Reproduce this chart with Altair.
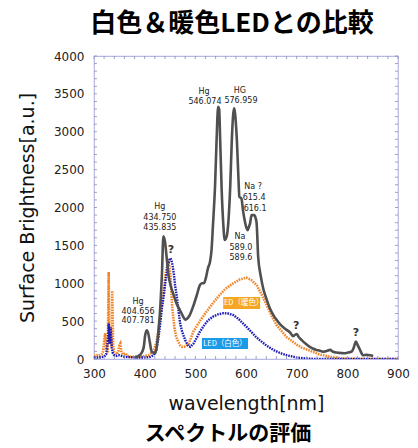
import altair as alt
import pandas as pd

# ---- data ----
gray_nm = [380, 384, 392, 398, 401, 404, 407, 410, 414, 421, 427, 431, 434, 437, 440, 444, 447, 452, 457,
           463, 470, 476, 480, 485, 489, 496, 503, 509, 513, 517, 520, 525, 529, 532, 535, 539, 542, 545,
           547, 549, 552, 555, 558, 562, 565, 569, 572, 575, 577, 579, 582, 585, 587, 591, 594, 598, 603,
           606, 608, 611, 616, 619, 621, 624, 629, 634, 641, 647, 654, 660, 667, 677, 687, 693, 697, 700,
           704, 710, 718, 726, 733, 739, 746, 752, 759, 766, 772, 779, 787, 795, 801, 808, 812, 815, 817,
           820, 825, 831, 838, 845, 851]
gray_val = [20, 30, 60, 150, 315, 380, 340, 230, 95, 80, 360, 700, 1100, 1620, 1550, 1300, 1110, 950, 850,
            730, 640, 560, 520, 540, 580, 700, 845, 975, 1000, 1000, 1050, 1200, 1285, 1440, 1790, 2300, 2900, 3330,
            3300, 2900, 2230, 1800, 1570, 1620, 1790, 2300, 2890, 3250, 3310, 3200, 2890, 2400, 2140, 2120, 1965, 1810, 1700,
            1750, 1790, 1900, 1900, 1860, 1790, 1350, 1100, 930, 780, 670, 580, 520, 460, 400, 350, 300, 320, 330,
            290, 250, 200, 160, 135, 120, 110, 95, 105, 120, 95, 85, 80, 75, 85, 95, 140, 200, 230,
            190, 120, 50, 55, 50, 40]

white_nm = [300, 310, 320, 324, 326, 328, 329, 331, 333, 335, 337, 340, 345, 350, 360, 370, 380, 390, 400,
            410, 418, 423, 427, 431, 434, 438, 441, 446, 449, 451, 453, 455, 458, 460, 464, 467, 470, 474,
            480, 486, 490, 496, 502, 509, 517, 525, 535, 545, 555, 565, 575, 585, 594, 601, 610, 620, 627,
            640, 654, 667, 680, 700, 720, 740, 800, 850, 900]
white_val = [20, 20, 30, 60, 150, 300, 470, 200, 420, 150, 80, 50, 40, 50, 30, 25, 20, 20, 20,
             25, 50, 120, 270, 480, 670, 850, 1020, 1240, 1310, 1330, 1300, 1240, 1100, 975, 800, 625, 470, 360,
             250, 170, 160, 200, 270, 360, 440, 510, 560, 590, 605, 600, 580, 530, 470, 425, 360, 290, 250,
             180, 120, 80, 50, 20, 5, 0, 0, 0, 0]

warm_nm = [300, 305, 310, 315, 318, 320, 322, 324, 326, 327, 329, 330, 331, 333, 335, 336, 337, 338, 340,
           342, 345, 348, 350, 352, 354, 357, 362, 366, 370, 380, 390, 400, 408, 413, 418, 423, 427, 431,
           434, 438, 441, 444, 446, 448, 451, 454, 457, 459, 462, 466, 470, 474, 480, 487, 496, 505, 513,
           522, 535, 548, 560, 575, 588, 601, 611, 621, 631, 641, 650, 660, 670, 680, 690, 700, 710, 726,
           745, 765, 790, 820, 860, 900]
warm_val = [40, 50, 40, 60, 100, 250, 340, 120, 200, 80, 1150, 400, 200, 300, 150, 900, 500, 150, 95,
            80, 60, 100, 180, 205, 90, 60, 75, 40, 30, 30, 30, 40, 50, 80, 120, 220, 360, 560,
            710, 920, 1110, 1230, 1285, 1250, 1110, 710, 520, 405, 300, 230, 180, 160, 165, 200, 360, 460, 540,
            625, 740, 845, 930, 1000, 1050, 1075, 1040, 975, 850, 710, 580, 450, 370, 290, 240, 190, 150, 110,
            60, 30, 5, 0, 0, 0]

note_text = ["Hg", "546.074", "HG", "576.959", "Na ?", "615.4", "616.1", "Na", "589.0", "589.6",
             "Hg", "434.750", "435.835", "Hg", "404.656", "407.781"]
note_nm = [517, 519, 588, 590, 614, 616, 618, 588, 590, 590, 430, 430, 430, 387, 387, 387]
note_val = [3525, 3393, 3538, 3406, 2271, 2125, 1980, 1611, 1465, 1333, 2007, 1861, 1729, 752, 620, 502]

q_nm = [452, 699, 817]
q_val = [1439, 436, 343]

box_label = ["LED（暖色）", "LED（白色）"]
box_color = ["#f5a623", "#1a9be8"]
box_nm = [555, 513]
box_nm2 = [628, 604]
box_v = [660, 132]
box_v2 = [818, 277]

x_major = [300, 400, 500, 600, 700, 800, 900]
y_major = [0, 500, 1000, 1500, 2000, 2500, 3000, 3500, 4000]
x_minor = list(range(300, 901, 20))
y_minor = list(range(0, 4001, 100))

W, H = 304, 303
FONT = "DejaVu Sans"
JP = "Noto Sans CJK JP"

xs = alt.Scale(domain=[300, 900], nice=False, zero=False)
ys = alt.Scale(domain=[0, 4000], nice=False)

gray_df = pd.DataFrame({"nm": gray_nm, "v": gray_val})
white_df = pd.DataFrame({"nm": white_nm, "v": white_val})
warm_df = pd.DataFrame({"nm": warm_nm, "v": warm_val})
note_df = pd.DataFrame({"nm": note_nm, "v": note_val, "t": note_text})
q_df = pd.DataFrame({"nm": q_nm, "v": q_val})
box_df = pd.DataFrame({"nm": box_nm, "nm2": box_nm2, "v": box_v, "v2": box_v2,
                       "c": box_color, "t": box_label})
box_df["cx"] = (box_df["nm"] + box_df["nm2"]) / 2
box_df["cy"] = (box_df["v"] + box_df["v2"]) / 2
box_txt_df = pd.DataFrame({"nm": box_df["cx"], "v": box_df["cy"], "t": box_df["t"]})

X = alt.X("nm:Q", scale=xs, title="wavelength[nm]",
          axis=alt.Axis(values=x_major, format="d", grid=False, ticks=False, domain=False,
                        labelFlush=False, labelFont=FONT,
                        labelFontSize=12, labelColor="#222", labelPadding=9, titleFont=FONT,
                        titleFontSize=19, titleFontWeight="normal", titleColor="#111", titlePadding=15))
Y = alt.Y("v:Q", scale=ys, title="Surface Brightness[a.u.]",
          axis=alt.Axis(values=y_major, format="d", grid=False, ticks=False, domain=False,
                        labelFlush=False, labelFont=FONT,
                        labelFontSize=12, labelColor="#222", labelPadding=10, titleFont=FONT,
                        titleFontSize=19, titleFontWeight="normal", titleColor="#111", titlePadding=16))

warm = alt.Chart(warm_df).mark_line(color="#f0862a", strokeWidth=2.6, strokeDash=[1.6, 1.0],
                                    clip=True).encode(x=X, y=Y)
white = alt.Chart(white_df).mark_line(color="#1c1cb8", strokeWidth=2.4, strokeDash=[1.6, 1.0],
                                      clip=True).encode(x=X, y=Y)
gray = alt.Chart(gray_df).mark_line(color="#505050", strokeWidth=2.6, interpolate="monotone",
                                    clip=True).encode(x=X, y=Y)

notes = alt.Chart(note_df).mark_text(font=FONT, fontSize=8, color="#222").encode(x=X, y=Y, text="t:N")
qs = alt.Chart(q_df).mark_text(font=FONT, fontSize=11, fontWeight="bold", color="#333",
                               text="?").encode(x=X, y=Y)

boxes = alt.Chart(box_df).mark_rect().encode(
    x=X, x2="nm2:Q", y=Y, y2="v2:Q", color=alt.Color("c:N", scale=None))
box_text = alt.Chart(box_txt_df).mark_text(font=JP, fontSize=7.5, color="white").encode(
    x=X, y=Y, text="t:N")

xt = pd.DataFrame({"nm": x_minor})
yt = pd.DataFrame({"v": y_minor})
tick_col = "#8a8ab8"
xb = alt.Chart(xt).mark_rule(color=tick_col, strokeWidth=0.8).encode(
    x=X, y=alt.value(H), y2=alt.value(H - 3))
xtop = alt.Chart(xt).mark_rule(color=tick_col, strokeWidth=0.8).encode(
    x=X, y=alt.value(0), y2=alt.value(3))
yl = alt.Chart(yt).mark_rule(color=tick_col, strokeWidth=0.8).encode(
    y=Y, x=alt.value(0), x2=alt.value(3))
yr = alt.Chart(yt).mark_rule(color=tick_col, strokeWidth=0.8).encode(
    y=Y, x=alt.value(W), x2=alt.value(W - 3))

one = pd.DataFrame({"a": [0]})
title = alt.Chart(one).mark_text(font=JP, fontSize=26, fontWeight="bold", color="#000000").encode(
    x=alt.value(138), y=alt.value(-32), text=alt.value("白色＆暖色LEDとの比較"))
caption = alt.Chart(one).mark_text(font=JP, fontSize=21, fontWeight="bold", color="#000000").encode(
    x=alt.value(134), y=alt.value(378), text=alt.value("スペクトルの評価"))

chart = alt.layer(
    warm, white, gray, xb, xtop, yl, yr, boxes, box_text, notes, qs, title, caption
).properties(
    width=W, height=H,
    autosize=alt.AutoSizeParams(type="none"),
    padding={"left": 94, "top": 56, "right": 20, "bottom": 89},
).configure_view(stroke="#b8b8e4", strokeWidth=1.2)

chart.save("out.html", embed_options={"renderer": "svg", "actions": False})
